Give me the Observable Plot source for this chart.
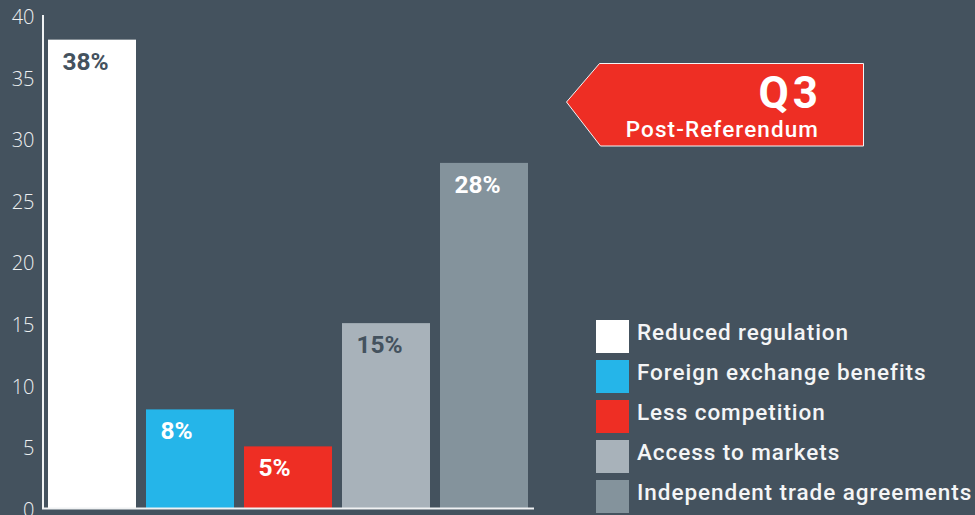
<!DOCTYPE html>
<html>
<head>
<meta charset="utf-8">
<script src="https://cdn.jsdelivr.net/npm/d3@7"></script>
<script src="https://cdn.jsdelivr.net/npm/@observablehq/plot@0.6"></script>
<style>
  html, body { margin: 0; padding: 0; background: #44525e; }
  #wrap { position: relative; width: 975px; height: 515px; overflow: hidden; background: #44525e; font-family: Roboto, "Liberation Sans", sans-serif; }
  #chart svg { display: block; }
  #legend { position: absolute; left: 596px; top: 316px; }
  .item { display: flex; align-items: center; height: 40px; margin: 0; }
  .sw { width: 33px; height: 33px; margin-right: 8px; flex: none; }
  .lab { color: #f4f5f6; font-size: 22.5px; font-weight: 500; letter-spacing: 0.95px; white-space: nowrap; position: relative; top: -4px; }
  #callout { position: absolute; left: 0; top: 0; }
</style>
</head>
<body>
<div id="wrap">
  <div id="chart"></div>
  <div id="legend"></div>
  <svg id="callout" width="975" height="515"></svg>
</div>
<script>
const categories = ["Reduced regulation", "Foreign exchange benefits", "Less competition", "Access to markets", "Independent trade agreements"];
const values = [38, 8, 5, 15, 28];
const labels = ["38%", "8%", "5%", "15%", "28%"];
const colors = ["#ffffff", "#25b5e9", "#ee2e24", "#a8b2ba", "#84939c"];
const labelColors = ["#44525e", "#ffffff", "#ffffff", "#44525e", "#ffffff"];
const yTicks = [0, 5, 10, 15, 20, 25, 30, 35, 40];
const badgeTitle = "Q3";
const badgeSubtitle = "Post-Referendum";

const data = categories.map((c, i) => ({category: c, value: values[i], label: labels[i], color: colors[i], labelColor: labelColors[i]}));

const chart = Plot.plot({
  width: 975,
  height: 515,
  marginLeft: 42,
  marginRight: 441,
  marginTop: 15,
  marginBottom: 7,
  style: {background: "#44525e", color: "#f0f2f3", fontFamily: "'Open Sans', sans-serif"},
  x: {domain: categories, paddingInner: 0.1, paddingOuter: 0.05, axis: null},
  y: {domain: [0, 40], ticks: yTicks},
  marks: [
    Plot.axisY({ticks: yTicks, tickSize: 0, tickPadding: 8, dy: 2, fontSize: 20, fontWeight: 300, fill: "#eef0f1", label: null}),
    Plot.barY(data, {x: "category", y: "value", fill: "color"}),
    Plot.text(data, {x: "category", y: "value", text: "label", fill: "labelColor", textAnchor: "start", lineAnchor: "top", dx: -30, dy: 12, fontSize: 24.5, fontWeight: 700, fontFamily: "Roboto, sans-serif", letterSpacing: "1.8px"}),
    Plot.ruleX([0], {x: () => categories[0], y1: 0, y2: 40, dx: -49.5, stroke: "#f0f2f3", strokeWidth: 2}),
    Plot.ruleY([0], {stroke: "#f0f2f3", strokeWidth: 2})
  ]
});
document.getElementById("chart").appendChild(chart);

const legend = d3.select("#legend");
categories.forEach((c, i) => {
  const it = legend.append("div").attr("class", "item");
  it.append("div").attr("class", "sw").style("background", colors[i]);
  it.append("div").attr("class", "lab").text(c);
});

const svg = d3.select("#callout");
svg.append("polygon")
  .attr("points", "566.5,102 599.5,63.5 863.5,63.5 863.5,146 600.5,146")
  .attr("fill", "#ee2e24").attr("stroke", "#f4f5f6").attr("stroke-width", 1);
svg.append("text").attr("x", 822).attr("y", 108).attr("text-anchor", "end")
  .attr("fill", "#ffffff").attr("font-size", 44).attr("font-weight", 700)
  .attr("letter-spacing", "4px")
  .attr("font-family", "Roboto, sans-serif").text(badgeTitle);
svg.append("text").attr("x", 819).attr("y", 137).attr("text-anchor", "end")
  .attr("fill", "#ffffff").attr("font-size", 22.5).attr("font-weight", 500)
  .attr("letter-spacing", "1.1px")
  .attr("font-family", "Roboto, sans-serif").text(badgeSubtitle);
</script>
</body>
</html>
